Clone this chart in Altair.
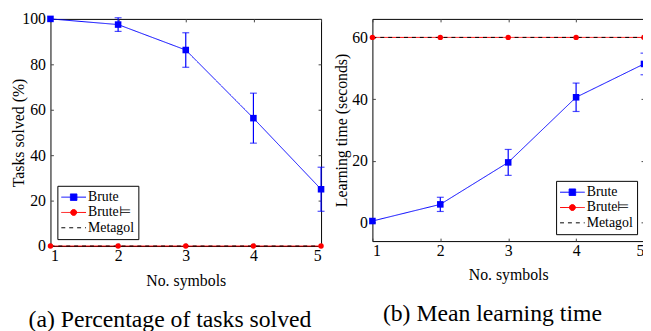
import altair as alt
import pandas as pd

# ---------------- data ----------------
x_vals = [1, 2, 3, 4, 5]
series_names = ["Brute", "Brute⊨", "Metagol"]
series_colors = ["#0000ff", "#ff0000", "#000000"]
series_dash = [[1, 0], [1, 0], [4, 4]]

# (a) percentage of tasks solved
a_brute = [100.0, 97.5, 86.3, 56.3, 25.0]
a_brute_err = [0.0, 3.0, 7.6, 11.0, 9.7]
a_brute_ent = [0, 0, 0, 0, 0]
a_metagol = [0, 0, 0, 0, 0]
a_yticks = [0, 20, 40, 60, 80, 100]

# (b) mean learning time (seconds)
b_brute = [0.5, 5.9, 19.5, 40.6, 51.4]
b_brute_err = [0.0, 2.3, 4.2, 4.6, 3.5]
b_brute_ent = [60, 60, 60, 60, 60]
b_metagol = [60, 60, 60, 60, 60]
b_yticks = [0, 20, 40, 60]

FONT = "Liberation Serif"

# legend symbols: line segment + marker (custom paths, drawn for a 14px symbol box)
legend_shapes = [
    "M-1.071,0H2.5M0.243,-0.471H1.185V0.471H0.243Z",
    "M-1.071,0H2.5M1.144,0A0.43,0.43,0,1,1,0.284,0A0.43,0.43,0,1,1,1.144,0Z",
    "M-1.071,0H2.5",
]


def make_df(brute, err, ent, metagol):
    rows = []
    for i, xv in enumerate(x_vals):
        rows.append({"x": xv, "value": brute[i], "series": series_names[0],
                     "err": err[i], "lo": brute[i] - err[i], "hi": brute[i] + err[i]})
        rows.append({"x": xv, "value": ent[i], "series": series_names[1],
                     "err": 0.0, "lo": ent[i], "hi": ent[i]})
        rows.append({"x": xv, "value": metagol[i], "series": series_names[2],
                     "err": 0.0, "lo": metagol[i], "hi": metagol[i]})
    return pd.DataFrame(rows)


AX = dict(labelFont=FONT, titleFont=FONT, labelFontSize=16, titleFontSize=16, titleFontWeight="normal",
          labelColor="black", titleColor="black", tickColor="#444444", tickWidth=1,
          domain=False, grid=False, offset=-3, tickSize=3)


def panel(df, ydomain, yticks, ytitle, caption, w, h, legend_orient, ytitlepad, xtitlepad, cap_dx):
    xs = alt.Scale(domain=[1, 5], nice=False, zero=False)
    ys = alt.Scale(domain=ydomain, nice=False, zero=False)

    x_main = alt.X("x:Q", scale=xs, axis=alt.Axis(values=x_vals, format="d", title="No. symbols",
                                                   labelPadding=2, titlePadding=xtitlepad, **AX))
    y_main = alt.Y("value:Q", scale=ys, axis=alt.Axis(values=yticks, title=ytitle,
                                                       labelPadding=5, titlePadding=ytitlepad, **AX))
    x_none = alt.X("x:Q", scale=xs, axis=None)
    y_none = alt.Y("value:Q", scale=ys, axis=None)

    base = alt.Chart(df)
    layers = []
    for i, name in enumerate(series_names):
        enc_x = x_main if i == 0 else x_none
        enc_y = y_main if i == 0 else y_none
        layers.append(
            base.transform_filter(alt.datum.series == name).mark_line(
                strokeWidth=1, color=series_colors[i], strokeDash=series_dash[i]
            ).encode(enc_x, enc_y)
        )

    errdata = base.transform_filter("datum.err > 0")
    layers.append(errdata.mark_rule(strokeWidth=1.2, color=series_colors[0]).encode(
        x=alt.X("x:Q", scale=xs, axis=alt.Axis(orient="top", values=x_vals, labels=False, title=None, **AX)),
        y=alt.Y("lo:Q", scale=ys, axis=alt.Axis(orient="right", values=yticks, labels=False, title=None, **AX)),
        y2="hi:Q",
    ))
    for fld in ["lo", "hi"]:
        layers.append(errdata.mark_tick(orient="horizontal", size=7, thickness=1.2,
                                        color=series_colors[0]).encode(
            x=x_none, y=alt.Y(f"{fld}:Q", scale=ys, axis=None)))

    layers.append(base.transform_filter(alt.datum.series == series_names[0]).mark_square(
        size=44, opacity=1, color=series_colors[0]).encode(x_none, y_none))
    layers.append(base.transform_filter(alt.datum.series == series_names[1]).mark_circle(
        size=30, opacity=1, color=series_colors[1]).encode(x_none, y_none))

    leg = alt.Legend(title=None, orient=legend_orient, offset=7, strokeColor="black", fillColor="white",
                     padding=4, labelFont=FONT, labelFontSize=14, labelColor="black", labelOffset=12,
                     labelExpr="datum.label + ' '",
                     rowPadding=0.5, symbolSize=196, symbolStrokeWidth=1, symbolOpacity=1,
                     cornerRadius=0)
    layers.append(base.mark_point(filled=True, strokeWidth=1, opacity=0).encode(
        x_none, y_none,
        shape=alt.Shape("series:N", scale=alt.Scale(domain=series_names, range=legend_shapes), legend=leg),
        fill=alt.Fill("series:N", scale=alt.Scale(domain=series_names, range=series_colors), legend=leg),
        stroke=alt.Stroke("series:N", scale=alt.Scale(domain=series_names, range=series_colors), legend=leg),
        strokeDash=alt.StrokeDash("series:N", scale=alt.Scale(domain=series_names, range=series_dash),
                                  legend=leg),
    ))

    return alt.layer(*layers).resolve_axis(
        x="independent", y="independent"
    ).properties(
        width=w, height=h,
        title=alt.TitleParams(caption, orient="bottom", anchor="middle", font=FONT, fontSize=24,
                              fontWeight="normal", color="black", offset=20, dx=cap_dx),
    )


df_a = make_df(a_brute, a_brute_err, a_brute_ent, a_metagol)
df_b = make_df(b_brute, b_brute_err, b_brute_ent, b_metagol)

left = panel(df_a, [0, 100], a_yticks, "Tasks solved (%)", "(a) Percentage of tasks solved",
             274, 230, "bottom-left", -5, 9, -16)
right = panel(df_b, [-6, 66], b_yticks, "Learning time (seconds)", "(b) Mean learning time",
              275, 225, "bottom-right", 2, 8, -16)

chart = alt.hconcat(left, right, spacing=4).resolve_scale(
    fill="independent", stroke="independent",
    shape="independent", strokeDash="independent",
).configure_view(stroke="black", strokeWidth=1).properties(
    autosize=alt.AutoSizeParams(type="none"),
    padding={"left": 43, "top": 9, "right": 600, "bottom": 314},
)

chart.save("out.html", embed_options={"renderer": "svg", "actions": False})
